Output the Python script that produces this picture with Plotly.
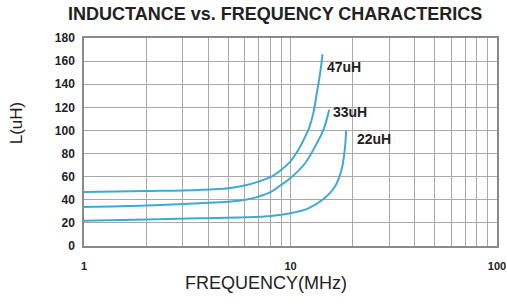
import plotly.graph_objects as go
import math

# Data
freq_47 = [1, 2, 3.61, 5.0, 6.05, 7.0, 8.08, 9.0, 9.97, 10.9, 11.77, 12.3, 12.9, 13.4, 13.9, 14.3]
ind_47 = [46.7, 47.5, 48.5, 50, 52.5, 55.7, 60, 65.8, 73, 83, 94.6, 102, 115, 132, 149, 166]

freq_33 = [1, 2, 3.61, 5.0, 6.05, 7.0, 8.08, 9.0, 9.97, 11.77, 13.14, 14.4, 15.4]
ind_33 = [33.7, 35, 37, 38.3, 40, 42.7, 47, 52.8, 58.6, 71.6, 86, 100, 118]

freq_22 = [1, 2, 3.61, 6.05, 8.08, 9.97, 12.2, 14.6, 16.4, 17.66, 18.3, 18.6]
ind_22 = [21.9, 23, 24, 24.8, 26, 28.3, 32.6, 41.3, 51.3, 65.8, 83, 100]

series = [("47uH", freq_47, ind_47), ("33uH", freq_33, ind_33), ("22uH", freq_22, ind_22)]
label_pos = {"47uH": (14.7, 155), "33uH": (15.7, 116), "22uH": (20.5, 93)}

x_tickvals = [1, 2, 3, 4, 5, 6, 7, 8, 9, 10, 20, 30, 40, 50, 60, 70, 80, 90, 100]
x_ticktext = ["1", "", "", "", "", "", "", "", "", "10", "", "", "", "", "", "", "", "", "100"]
y_tickvals = [0, 20, 40, 60, 80, 100, 120, 140, 160, 180]

title_text = "INDUCTANCE vs. FREQUENCY CHARACTERICS"
x_title = "FREQUENCY(MHz)"
y_title = "L(uH)"

line_color = "#3fa9d3"
font = "Liberation Sans, Arial, sans-serif"

fig = go.Figure()
for name, f, l in series:
    fig.add_trace(go.Scatter(x=f, y=l, mode="lines", name=name,
                             line=dict(color=line_color, width=2, shape="spline", smoothing=1.0),
                             showlegend=False, hoverinfo="skip"))

for name, (fx, ly) in label_pos.items():
    fig.add_annotation(x=math.log10(fx), y=ly, text=name, showarrow=False,
                       xanchor="left", yanchor="middle",
                       font=dict(family=font, size=14, color="#222222", weight="bold"))

fig.add_annotation(text=title_text, xref="paper", yref="paper", x=0.462, y=1.0,
                   yshift=24, showarrow=False, xanchor="center", yanchor="middle",
                   font=dict(family=font, size=18, color="#222222", weight="bold"))

fig.add_annotation(text=x_title, xref="paper", yref="paper", x=0.441, y=0,
                   yshift=-37, showarrow=False, xanchor="center", yanchor="middle",
                   font=dict(family=font, size=18, color="#222222"))

fig.add_annotation(text=y_title, xref="paper", yref="paper", x=0, y=0.59,
                   xshift=-68, showarrow=False, xanchor="center", yanchor="middle",
                   textangle=-90,
                   font=dict(family=font, size=17, color="#222222"))

fig.update_xaxes(type="log", range=[0, 2], tickvals=x_tickvals, ticktext=x_ticktext,
                 showgrid=True, gridcolor="#a8a8a8", gridwidth=1,
                 showline=True, linecolor="#8a8a8a", linewidth=1.5, mirror=True,
                 ticks="", ticklabelstandoff=9, zeroline=False, automargin=False,
                 ticklabeloverflow="allow",
                 tickfont=dict(family=font, size=11, color="#222222", weight="bold"))
fig.update_yaxes(range=[0, 180], tickvals=y_tickvals,
                 showgrid=True, gridcolor="#a8a8a8", gridwidth=1,
                 showline=True, linecolor="#8a8a8a", linewidth=1.5, mirror=True,
                 ticks="", ticklabelstandoff=5, zeroline=False, automargin=False,
                 tickfont=dict(family=font, size=12, color="#222222", weight="bold"))

fig.update_layout(width=507, height=304,
                  margin=dict(l=84, r=10, t=38, b=58),
                  paper_bgcolor="white", plot_bgcolor="white")

fig.write_html("out.html", config={"displayModeBar": False},
               post_script="document.body.style.margin='0';document.body.style.padding='0';")
